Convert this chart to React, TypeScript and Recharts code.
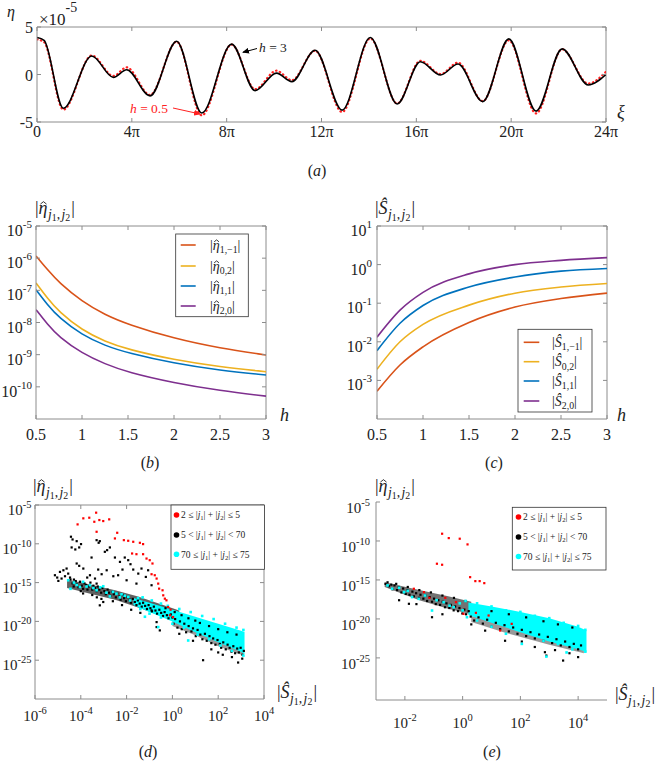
import React from 'react';
import { LineChart, Line, XAxis, YAxis, ReferenceLine, ComposedChart, Scatter, Area } from 'recharts';

const FONT = 'Liberation Serif, Times New Roman, DejaVu Serif, serif';
const AX = '#8c8c8c';
const TXT = '#222222';
const C_OR = '#D95319';
const C_YE = '#EDB120';
const C_BL = '#0072BD';
const C_PU = '#7E2F8E';
const C_CY = '#00FFFF';

// ---------------- panel (a): eta(xi), xi in units of pi, eta in units of 1e-5
const xiPi = [0, 0.3, 1.11, 2.31, 3.22, 3.78, 4.77, 5.89, 6.95, 8.21, 9.2, 10.1, 10.75, 11.73, 12.87, 14.06, 15.19, 16.17, 17.02, 17.76, 18.8, 19.9, 21.05, 22.15, 23.25, 24];
const etaH3 = [3.9, 3.6, -3.55, 1.95, -0.3, 0.5, -2.25, 3.5, -4.05, 3.2, -1.7, 0.15, -0.75, 2.55, -3.75, 3.9, -3.1, 1.35, -0.05, 1.1, -2.85, 3.75, -3.85, 2.7, -1.1, 0.0];
const etaH05 = [3.7, 3.4, -3.7, 2.0, -0.15, 0.75, -2.15, 3.45, -4.3, 3.15, -1.55, 0.4, -0.6, 2.5, -3.95, 3.8, -3.05, 1.45, 0.05, 1.25, -2.8, 3.6, -4.1, 2.65, -0.95, 0.3];
const xiTicks = [0, 4, 8, 12, 16, 20, 24];
const etaTicks = [-5, 0, 5];

// ---------------- panel (b): log10 |eta_hat| vs h
const hB = [0.5, 0.625, 0.75, 1, 1.25, 1.5, 2, 2.5, 3];
const logEta1m1 = [-5.93, -6.36, -6.76, -7.35, -7.76, -8.06, -8.5, -8.8, -9.01];
const logEta02 = [-6.77, -7.25, -7.67, -8.24, -8.59, -8.84, -9.16, -9.38, -9.53];
const logEta11 = [-6.98, -7.45, -7.85, -8.39, -8.72, -8.95, -9.27, -9.49, -9.63];
const logEta20 = [-7.6, -8.06, -8.45, -8.96, -9.29, -9.55, -9.88, -10.12, -10.29];
const hTicks = [0.5, 1, 1.5, 2, 2.5, 3];
const decTicksB = [-10, -9, -8, -7, -6, -5];

// ---------------- panel (c): log10 |S_hat| vs h
const hC = [0.5, 0.75, 1, 1.5, 2, 2.5, 3];
const logS1m1 = [-3.28, -2.6, -2.13, -1.5, -1.1, -0.88, -0.74];
const logS02 = [-2.71, -2.0, -1.55, -1.05, -0.74, -0.58, -0.49];
const logS11 = [-2.23, -1.52, -1.06, -0.58, -0.32, -0.17, -0.1];
const logS20 = [-1.88, -1.18, -0.72, -0.24, 0.0, 0.11, 0.18];
const decTicksC = [-3, -2, -1, 0, 1];

// ---------------- panel (d): [log10 S, log10 eta]
const redD: [number, number][] = [
  [-4.14, -7.5], [-3.89, -6.72], [-3.63, -6.64], [-3.33, -5.99], [-3.41, -7.16], [-3.19, -6.94], [-3.02, -7.07], [-2.76, -6.85],
  [-3.31, -8.45], [-2.41, -8.58], [-2.51, -9.31], [-2.12, -9.53], [-1.93, -9.61], [-1.71, -9.74], [-1.42, -9.87], [-1.28, -10.04],
  [-1.76, -11.25], [-1.57, -11.34], [-1.28, -11.34], [-1.13, -11.9], [-0.99, -12.11], [-0.87, -12.54], [-0.91, -13.92], [-0.77, -14.05],
  [-0.69, -14.48], [-0.62, -15.13], [-0.58, -15.78], [-0.43, -15.99], [-0.4, -16.64], [-0.33, -17.07], [-0.26, -17.28], [-0.19, -18.15],
  [-0.08, -18.49], [-0.11, -19.22], [0.03, -19.44],
];
const blackD: [number, number][] = [
  [-4.43, -9.09], [-4.36, -9.44], [-4.18, -9.66], [-3.99, -10.04], [-4.4, -10.47], [-4.24, -10.73], [-4.07, -10.47], [-3.31, -9.53],
  [-3.22, -9.87], [-3.17, -9.66], [-4.18, -12.54], [-4.07, -12.84], [-3.89, -13.19], [-3.53, -11.77], [-2.85, -10.82], [-2.73, -10.47],
  [-2.95, -11.03], [-2.51, -11.77], [-2.29, -12.33], [-2.08, -11.77], [-1.93, -12.11], [-2.18, -13.32], [-1.83, -12.63], [-1.71, -13.32],
  [-1.49, -13.84], [-1.35, -13.19], [-1.16, -14.27], [-1.06, -13.41], [-3.24, -13.32], [-3.09, -13.92], [-2.87, -13.41], [-2.58, -14.18],
  [-2.37, -14.05], [-3.6, -14.05], [-3.38, -14.48], [-3.72, -14.35], [-3.31, -15.13], [-2.0, -14.7], [-1.57, -15.13], [-0.91, -15.34],
  [-3.17, -17.93], [-3.02, -17.5], [-0.91, -18.58], [-0.69, -20.73], [-0.55, -21.16], [-0.69, -20.09],
  [-5.13, -14.05], [-5.03, -14.35], [-4.91, -13.62], [-4.76, -13.41], [-4.62, -13.19], [-4.55, -13.84], [-4.98, -14.78], [-4.84, -14.48],
  [-4.69, -14.18], [-4.47, -14.35], [-4.3, -14.61], [-4.04, -14.91],
  [-4.45, -14.6], [-4.36, -15.1], [-4.31, -15.5], [-4.22, -14.8], [-4.17, -15.2], [-4.1, -15.6], [-4.03, -14.9], [-3.96, -15.4],
  [-3.9, -15.8], [-3.84, -15.1], [-3.77, -15.3], [-3.71, -15.9], [-3.65, -15.5], [-3.58, -15.0], [-3.5, -15.9], [-3.45, -15.4],
  [-3.38, -15.7], [-3.31, -16.1], [-3.26, -15.5], [-3.19, -15.9], [-3.11, -16.3], [-3.06, -15.7], [-2.97, -16.1], [-2.91, -16.5],
  [-2.83, -15.9], [-2.77, -16.3], [-2.71, -16.7], [-2.63, -16.2], [-2.56, -16.5], [-2.47, -16.9], [-2.41, -16.4], [-2.32, -16.8],
  [-2.26, -17.2], [-2.17, -16.6], [-2.11, -17.0], [-2.03, -17.4], [-1.96, -16.9], [-1.87, -17.2], [-1.81, -17.6], [-1.73, -17.1],
  [-1.64, -17.5], [-1.57, -17.9], [-1.51, -17.3], [-1.43, -17.7], [-1.34, -18.1], [-1.28, -17.6], [-1.19, -18.0], [-1.11, -18.4],
  [-1.04, -17.9], [-0.96, -18.3], [-0.89, -18.7], [-0.81, -18.1], [-0.74, -18.6], [-0.67, -19.0], [-0.57, -18.5], [-0.49, -18.9],
  [-0.41, -19.3], [-0.34, -18.8], [-0.24, -19.2], [-0.17, -19.6], [-0.07, -19.1], [0.0, -19.5],
  [-3.9, -16.4], [-3.5, -16.6], [-3.1, -17.1], [-2.6, -17.4], [-2.2, -17.9], [-1.8, -18.5], [-1.4, -18.9], [-4.0, -16.1], [-3.3, -16.9],
  [0.05, -20.3], [0.12, -19.7], [0.22, -20.8], [0.33, -20.0], [0.41, -21.0], [0.52, -20.3], [0.6, -21.4], [0.71, -20.6],
  [0.83, -21.3], [0.9, -20.9], [1.02, -21.9], [1.1, -21.1], [1.22, -21.7], [1.31, -22.3], [1.42, -21.6], [1.5, -22.5],
  [1.62, -21.9], [1.7, -22.8], [1.78, -22.2], [1.88, -23.0], [1.97, -22.4], [2.07, -22.9], [2.13, -23.4], [2.22, -22.7],
  [2.33, -23.6], [2.41, -23.0], [2.5, -23.4], [2.58, -23.9], [2.66, -23.2], [2.74, -24.1], [2.83, -23.5], [2.9, -24.0],
  [2.98, -23.4], [3.06, -24.3], [3.12, -23.8],
  [-0.3, -18.3], [0.1, -18.8], [0.4, -19.2], [0.7, -19.6], [1.0, -19.9], [1.2, -20.2], [1.6, -20.6], [2.0, -21.0], [2.4, -21.4], [2.8, -21.7],
  [1.34, -25.0], [2.87, -25.3], [2.6, -24.6], [2.0, -24.0], [1.7, -23.6], [0.9, -22.5], [0.3, -21.6], [2.2, -24.3], [3.05, -24.8],
];
const cyanD: [number, number][] = [
  [-4.55, -14.7], [-4.45, -15.8], [-4.3, -15.0], [-4.18, -15.3], [-4.04, -15.56], [-3.9, -14.9], [-3.75, -15.5], [-3.6, -15.34],
  [-3.45, -15.7], [-3.31, -15.99], [-3.15, -15.6], [-3.02, -15.47], [-2.88, -16.3], [-2.73, -16.77], [-2.6, -16.2], [-2.44, -16.42],
  [-2.3, -16.9], [-2.22, -16.51], [-2.08, -16.7], [-1.93, -16.85], [-1.85, -17.3], [-1.2, -19.4], [-0.62, -20.73], [0.69, -22.46],
  [-1.5, -17.0], [-1.3, -16.9], [-0.9, -17.3], [-0.5, -17.7], [-0.2, -18.0], [0.3, -18.4], [0.8, -18.8], [1.3, -19.3],
  [1.8, -19.7], [2.3, -20.3], [2.8, -20.8], [3.1, -21.1], [3.1, -24.4], [2.6, -23.8], [2.1, -23.1], [1.6, -22.3],
  [1.1, -21.7], [0.5, -20.8], [0.0, -20.3], [-0.5, -19.5], [-1.0, -19.0], [-1.4, -18.4],
];
const bandDx = [-1.7, -1.0, 0, 1, 2, 3, 3.15];
const bandDhi = [-17.0, -17.6, -18.5, -19.4, -20.3, -21.2, -21.35];
const bandDlo = [-17.9, -18.8, -20.0, -21.4, -22.7, -23.9, -24.2];
const blkBandDx = [-4.6, -3.5, -2.5, -1.5, -0.5, 0.3];
const blkBandDhi = [-14.6, -15.3, -16.0, -16.8, -17.8, -18.6];
const blkBandDlo = [-15.7, -16.5, -17.2, -18.2, -19.3, -20.0];
const lowBandDx = [0, 1, 2, 3.1];
const lowBandDhi = [-19.9, -21.0, -22.2, -23.3];
const lowBandDlo = [-20.6, -21.8, -23.2, -24.4];
const sTicksD = [-6, -4, -2, 0, 2, 4];
const etaTicksDE = [-25, -20, -15, -10, -5];

// ---------------- panel (e)
const redE: [number, number][] = [
  [-0.71, -9.07], [-0.48, -9.63], [-0.1, -9.71], [0.17, -10.44], [-0.89, -12.92], [-0.71, -13.05], [0.26, -14.64], [0.44, -15.15],
  [0.59, -15.15], [0.75, -15.41], [-1.69, -16.13], [-1.34, -16.56], [-1.15, -17.29], [-0.6, -17.29], [-0.23, -17.85], [0.03, -19.35],
  [0.46, -19.22], [0.9, -19.56], [1.3, -21.49], [1.7, -20.63],
];
const blackE: [number, number][] = [
  [-2.67, -15.5], [-2.6, -15.3], [-2.55, -15.8], [-2.47, -15.6], [-2.43, -16.2], [-2.36, -15.7], [-2.27, -16.3], [-2.21, -15.9],
  [-2.12, -16.6], [-2.06, -16.1], [-1.97, -16.8], [-1.91, -16.3], [-1.84, -16.9], [-1.74, -16.5], [-1.69, -17.1], [-1.61, -16.7],
  [-1.51, -17.3], [-1.46, -16.9], [-1.36, -17.4], [-1.29, -17.0], [-1.23, -17.7], [-1.14, -17.2], [-1.06, -17.8], [-0.99, -17.4],
  [-0.93, -18.1], [-0.84, -17.6], [-0.78, -18.2], [-0.69, -17.8], [-0.61, -18.5], [-0.56, -18.0], [-0.46, -18.6], [-0.41, -18.2],
  [-0.31, -18.9], [-0.26, -18.4], [-0.16, -19.0], [-0.11, -18.6], [-0.01, -19.3], [0.06, -18.8], [0.12, -19.4], [0.21, -19.0], [0.28, -19.7],
  [-2.3, -15.5], [-1.9, -15.9], [-1.5, -16.3], [-1.1, -16.6], [-0.7, -17.0], [-0.3, -17.3], [0.1, -17.7],
  [0.4, -20.2], [0.55, -19.8], [0.7, -20.6], [0.85, -20.1], [1.0, -21.0], [1.15, -20.5], [1.3, -21.3], [1.45, -20.8],
  [1.6, -21.6], [1.75, -21.1], [1.9, -21.9], [2.05, -21.4], [2.2, -22.2], [2.35, -21.7], [2.5, -22.5], [2.65, -22.0],
  [2.8, -22.8], [2.95, -22.3], [3.1, -23.1], [3.25, -22.6], [3.4, -23.4], [3.55, -22.9], [3.7, -23.6], [3.85, -23.2],
  [4.0, -23.9], [4.1, -23.4],
  [1.0, -19.0], [1.6, -19.4], [2.2, -19.8], [2.8, -20.3], [3.3, -20.7], [3.8, -21.1],
  [-1.86, -18.06], [-1.06, -19.78], [-0.7, -19.4], [0.78, -21.5], [1.47, -22.8], [2.05, -22.9], [2.85, -24.27], [2.9, -24.7],
  [3.48, -25.34], [4.0, -24.9], [3.7, -24.4], [-2.2, -17.6], [-1.6, -18.1], [0.3, -20.7], [2.5, -23.6], [3.2, -24.0],
];
const cyanE: [number, number][] = [
  [-2.44, -16.13], [-2.03, -16.56], [-1.75, -17.2], [-1.52, -17.42], [-1.3, -17.0], [-1.06, -18.92], [-0.9, -17.6], [-0.66, -17.85],
  [-0.45, -18.3], [-0.31, -18.49], [-0.1, -18.0], [0.0, -18.9], [0.15, -19.78], [0.1, -17.7], [0.5, -18.0], [1.0, -18.4],
  [1.5, -18.9], [2.0, -19.1], [2.5, -19.6], [3.0, -19.9], [3.5, -20.5], [4.0, -20.9], [4.25, -21.4], [4.25, -24.2],
  [3.8, -23.9], [3.3, -23.2], [2.8, -22.8], [2.05, -23.2], [2.9, -24.83], [3.6, -24.3], [1.5, -21.9], [1.0, -21.0],
  [0.5, -20.2], [-2.2, -16.0], [-1.9, -16.4], [-2.6, -15.7],
];
const bandEx = [0.2, 1.0, 2.0, 3.0, 4.0, 4.29];
const bandEhi = [-17.9, -18.4, -19.1, -19.9, -21.0, -21.5];
const bandElo = [-19.5, -20.5, -21.7, -22.9, -23.9, -24.2];
const blkBandEx = [-2.7, -1.5, -0.5, 0.3];
const blkBandEhi = [-15.3, -16.3, -17.1, -17.8];
const blkBandElo = [-15.9, -17.6, -18.7, -19.4];
const lowBandEx = [0.3, 1.5, 3.0, 4.2];
const lowBandEhi = [-19.6, -20.8, -22.3, -23.5];
const lowBandElo = [-20.4, -21.8, -23.3, -24.4];
const sTicksE = [-2, 0, 2, 4];

// ---------------- helpers
const toPts = (a: [number, number][]) => a.map(([x, y]) => ({ x, y }));
const toBand = (xs: number[], lo: number[], hi: number[]) => xs.map((x, i) => ({ x, r: [lo[i], hi[i]] }));
const sq = (fill: string, s: number) => (p: any) =>
  p && Number.isFinite(p.cx) && Number.isFinite(p.cy) ? (
    <rect x={p.cx - s / 2} y={p.cy - s / 2} width={s} height={s} fill={fill} />
  ) : (
    <g />
  );

const pow10 = (es: number, up: number) => (v: number) => [
  <tspan key="b">10</tspan>,
  <tspan key="e" dy={-up} fontSize={es}>
    {String(v)}
  </tspan>,
];
const piFmt = (v: number) => (v === 0 ? '0' : `${v}π`);
const plainFmt = (v: number) => String(v);
const tstyle: React.CSSProperties = { fontFamily: FONT };

const makeXTick = (o: { plotH: number | null; fs: number; dy: number; fmt: (v: number) => any }) => (p: any) => {
  const { x, y, payload } = p;
  return (
    <g>
      <line x1={x} y1={y} x2={x} y2={y - 4} stroke={AX} />
      {o.plotH != null && <line x1={x} y1={y - o.plotH} x2={x} y2={y - o.plotH + 4} stroke={AX} />}
      <text x={x} y={y + o.dy} textAnchor="middle" fontSize={o.fs} style={tstyle} fill={TXT}>
        {o.fmt(payload.value)}
      </text>
    </g>
  );
};
const makeYTick = (o: { plotW: number | null; fs: number; dy: number; gap: number; fmt: (v: number) => any }) => (p: any) => {
  const { x, y, payload } = p;
  return (
    <g>
      <line x1={x} y1={y} x2={x + 4} y2={y} stroke={AX} />
      {o.plotW != null && <line x1={x + o.plotW} y1={y} x2={x + o.plotW - 4} y2={y} stroke={AX} />}
      <text x={x - o.gap} y={y + o.dy} textAnchor="end" fontSize={o.fs} style={tstyle} fill={TXT}>
        {o.fmt(payload.value)}
      </text>
    </g>
  );
};

type Part = { t: string; it?: boolean; s?: number; dy?: number; dx?: number };
function MText({ x, y, fs, parts, fill = TXT, anchor = 'start' }: { x: number; y: number; fs: number; parts: Part[]; fill?: string; anchor?: string }) {
  return (
    <text x={x} y={y} fontSize={fs} style={tstyle} fill={fill} textAnchor={anchor as any}>
      {parts.map((p, i) => (
        <tspan key={i} fontStyle={p.it ? 'italic' : 'normal'} fontSize={fs * (p.s ?? 1)} dy={(p.dy ?? 0) * fs} dx={(p.dx ?? 0) * fs}>
          {p.t}
        </tspan>
      ))}
    </text>
  );
}
function Hat({ x, y, w }: { x: number; y: number; w: number }) {
  return <path d={`M${x - w / 2},${y} L${x},${y - w * 0.4} L${x + w / 2},${y}`} stroke={TXT} strokeWidth={0.9} fill="none" />;
}
const jjParts = (letter: string): Part[] => [
  { t: '|' },
  { t: letter, it: true },
  { t: 'j', it: true, s: 0.76, dy: 0.28, dx: 0.02 },
  { t: '1', s: 0.55, dy: 0.1 },
  { t: ',', s: 0.76, dy: -0.1 },
  { t: 'j', it: true, s: 0.76, dx: 0.08 },
  { t: '2', s: 0.55, dy: 0.1 },
  { t: '|', dy: -0.38, dx: 0.06 },
];
function EtaTitle({ x, y, fs }: { x: number; y: number; fs: number }) {
  return (
    <g>
      <MText x={x} y={y} fs={fs} parts={jjParts('η')} />
      <Hat x={x + fs * 0.47} y={y - fs * 0.55} w={fs * 0.34} />
    </g>
  );
}
function STitle({ x, y, fs }: { x: number; y: number; fs: number }) {
  return <MText x={x} y={y} fs={fs} parts={jjParts('Ŝ')} />;
}
function LegLabel({ x, y, fs, letter, sub }: { x: number; y: number; fs: number; letter: string; sub: string }) {
  const parts: Part[] = [{ t: '|' }, { t: letter, it: true }, { t: sub, s: 0.7, dy: 0.25 }, { t: '|', dy: -0.25 }];
  return (
    <g>
      <MText x={x} y={y} fs={fs} parts={parts} />
      {letter === 'η' && <Hat x={x + fs * 0.47} y={y - fs * 0.55} w={fs * 0.34} />}
    </g>
  );
}
const rangeParts = (a: string, op1: string, op2: string, b: string): Part[] => [
  { t: `${a} ${op1} |` },
  { t: 'j', it: true },
  { t: '1', s: 0.7, dy: 0.2 },
  { t: '| + |', dy: -0.2 },
  { t: 'j', it: true },
  { t: '2', s: 0.7, dy: 0.2 },
  { t: `| ${op2} ${b}`, dy: -0.2 },
];

function ScatterLegend({ x0, y0, x1, y1, dotX, ys, textX }: { x0: number; y0: number; x1: number; y1: number; dotX: number; ys: number[]; textX: number }) {
  const items = [
    { c: '#ff0000', p: rangeParts('2', '≤', '≤', '5') },
    { c: '#000000', p: rangeParts('5', '<', '<', '70') },
    { c: C_CY, p: rangeParts('70', '≤', '≤', '75') },
  ];
  return (
    <g>
      <rect x={x0} y={y0} width={x1 - x0} height={y1 - y0} fill="#fff" stroke="#333" strokeWidth={0.8} />
      {items.map((it, i) => (
        <g key={i}>
          <circle cx={dotX} cy={ys[i]} r={2.8} fill={it.c} />
          <MText x={textX} y={ys[i] + 3.3} fs={9.5} parts={it.p} />
        </g>
      ))}
    </g>
  );
}

function LineLegend({ x0, y0, x1, y1, lx0, lx1, ys, tx, letter, subs, colors }: any) {
  return (
    <g>
      <rect x={x0} y={y0} width={x1 - x0} height={y1 - y0} fill="#fff" stroke="#333" strokeWidth={0.8} />
      {ys.map((yy: number, i: number) => (
        <g key={i}>
          <line x1={lx0} y1={yy} x2={lx1} y2={yy} stroke={colors[i]} strokeWidth={1.6} />
          <LegLabel x={tx} y={yy + 4.5} fs={14} letter={letter} sub={subs[i]} />
        </g>
      ))}
    </g>
  );
}

// ---------------- data tables
const dataA = xiPi.map((x, i) => ({ x, h3: etaH3[i], h05: etaH05[i] }));
const dataB = hB.map((h, i) => ({ h, a: logEta1m1[i], b: logEta02[i], c: logEta11[i], d: logEta20[i] }));
const dataC = hC.map((h, i) => ({ h, a: logS1m1[i], b: logS02[i], c: logS11[i], d: logS20[i] }));
const dataBandD = toBand(bandDx, bandDlo, bandDhi);
const dataBlkD = toBand(blkBandDx, blkBandDlo, blkBandDhi);
const dataLowD = toBand(lowBandDx, lowBandDlo, lowBandDhi);
const dataBandE = toBand(bandEx, bandElo, bandEhi);
const dataBlkE = toBand(blkBandEx, blkBandElo, blkBandEhi);
const dataLowE = toBand(lowBandEx, lowBandElo, lowBandEhi);

const pos = (l: number, t: number): React.CSSProperties => ({ position: 'absolute', left: l, top: t });

export default function App() {
  return (
    <div style={{ position: 'relative', width: 664, height: 761, background: '#fff', fontFamily: FONT, overflow: 'hidden' }}>
      <style>{'html,body{margin:0;padding:0;background:#fff}'}</style>

      {/* (a) */}
      <div style={pos(0, 0)}>
        <LineChart width={664} height={180} data={dataA} margin={{ top: 27, right: 58, bottom: 0, left: 0 }}>
          <XAxis type="number" dataKey="x" domain={[0, 24]} ticks={xiTicks} interval={0} allowDataOverflow height={58}
            tickSize={0} tickMargin={0} tickLine={false} stroke={AX} tick={makeXTick({ plotH: 95, fs: 16, dy: 15, fmt: piFmt })} />
          <YAxis type="number" domain={[-5, 5]} ticks={etaTicks} interval={0} allowDataOverflow width={37}
            tickSize={0} tickMargin={0} tickLine={false} stroke={AX} tick={makeYTick({ plotW: 569, fs: 16, dy: 6, gap: 4, fmt: plainFmt })} />
          <ReferenceLine y={5} stroke={AX} />
          <ReferenceLine x={24} stroke={AX} />
          <Line dataKey="h05" type="monotone" stroke="#ff2020" strokeWidth={2.2} strokeDasharray="0.5 3.5" strokeLinecap="round" dot={false} isAnimationActive={false} />
          <Line dataKey="h3" type="monotone" stroke="#000" strokeWidth={1.6} dot={false} isAnimationActive={false} />
        </LineChart>
      </div>

      {/* (b) */}
      <div style={pos(0, 200)}>
        <LineChart width={332} height={260} data={dataB} margin={{ top: 26, right: 66, bottom: 0, left: 0 }}>
          <XAxis type="number" dataKey="h" domain={[0.5, 3]} ticks={hTicks} interval={0} allowDataOverflow height={41}
            tickSize={0} tickMargin={0} tickLine={false} stroke={AX} tick={makeXTick({ plotH: 193, fs: 16, dy: 21, fmt: plainFmt })} />
          <YAxis type="number" domain={[-11, -5]} ticks={decTicksB} interval={0} allowDataOverflow width={36}
            tickSize={0} tickMargin={0} tickLine={false} stroke={AX} tick={makeYTick({ plotW: 230, fs: 16, dy: 10, gap: 4, fmt: pow10(11, 8) })} />
          <ReferenceLine y={-5} stroke={AX} />
          <ReferenceLine x={3} stroke={AX} />
          <Line dataKey="a" type="basis" stroke={C_OR} strokeWidth={1.6} dot={false} isAnimationActive={false} />
          <Line dataKey="b" type="basis" stroke={C_YE} strokeWidth={1.6} dot={false} isAnimationActive={false} />
          <Line dataKey="c" type="basis" stroke={C_BL} strokeWidth={1.6} dot={false} isAnimationActive={false} />
          <Line dataKey="d" type="basis" stroke={C_PU} strokeWidth={1.6} dot={false} isAnimationActive={false} />
        </LineChart>
      </div>

      {/* (c) */}
      <div style={pos(332, 200)}>
        <LineChart width={332} height={260} data={dataC} margin={{ top: 26, right: 57, bottom: 0, left: 0 }}>
          <XAxis type="number" dataKey="h" domain={[0.5, 3]} ticks={hTicks} interval={0} allowDataOverflow height={41}
            tickSize={0} tickMargin={0} tickLine={false} stroke={AX} tick={makeXTick({ plotH: 193, fs: 16, dy: 21, fmt: plainFmt })} />
          <YAxis type="number" domain={[-4, 1]} ticks={decTicksC} interval={0} allowDataOverflow width={45}
            tickSize={0} tickMargin={0} tickLine={false} stroke={AX} tick={makeYTick({ plotW: 230, fs: 16, dy: 10, gap: 5, fmt: pow10(11, 8) })} />
          <ReferenceLine y={1} stroke={AX} />
          <ReferenceLine x={3} stroke={AX} />
          <Line dataKey="a" type="monotone" stroke={C_OR} strokeWidth={1.6} dot={false} isAnimationActive={false} />
          <Line dataKey="b" type="monotone" stroke={C_YE} strokeWidth={1.6} dot={false} isAnimationActive={false} />
          <Line dataKey="c" type="monotone" stroke={C_BL} strokeWidth={1.6} dot={false} isAnimationActive={false} />
          <Line dataKey="d" type="monotone" stroke={C_PU} strokeWidth={1.6} dot={false} isAnimationActive={false} />
        </LineChart>
      </div>

      {/* (d) */}
      <div style={pos(0, 480)}>
        <ComposedChart width={332} height={260} data={dataBandD} margin={{ top: 25, right: 68, bottom: 0, left: 0 }}>
          <XAxis type="number" dataKey="x" domain={[-6, 4]} ticks={sTicksD} interval={0} allowDataOverflow height={41}
            tickSize={0} tickMargin={0} tickLine={false} stroke={AX} tick={makeXTick({ plotH: 194, fs: 15, dy: 22, fmt: pow10(10.5, 7) })} />
          <YAxis type="number" domain={[-30, -5]} ticks={etaTicksDE} interval={0} allowDataOverflow width={35}
            tickSize={0} tickMargin={0} tickLine={false} stroke={AX} tick={makeYTick({ plotW: 229, fs: 15, dy: 10, gap: 3.5, fmt: pow10(10.5, 7) })} />
          <ReferenceLine y={-5} stroke={AX} />
          <ReferenceLine x={4} stroke={AX} />
          <Area data={dataBlkD} dataKey="r" type="linear" stroke="none" fill="#000" fillOpacity={0.62} isAnimationActive={false} />
          <Area data={dataLowD} dataKey="r" type="linear" stroke="none" fill="#000" fillOpacity={0.4} isAnimationActive={false} />
          <Area dataKey="r" type="linear" stroke="none" fill={C_CY} fillOpacity={1} isAnimationActive={false} />
          <Scatter data={toPts(blackD)} dataKey="y" fill="#000" shape={sq('#000', 2.2)} isAnimationActive={false} />
          <Scatter data={toPts(cyanD)} dataKey="y" fill={C_CY} shape={sq(C_CY, 2.6)} isAnimationActive={false} />
          <Scatter data={toPts(redD)} dataKey="y" fill="#f00" shape={sq('#ff0000', 2.2)} isAnimationActive={false} />
        </ComposedChart>
      </div>

      {/* (e) */}
      <div style={pos(332, 480)}>
        <ComposedChart width={332} height={260} data={dataBandE} margin={{ top: 22, right: 57, bottom: 0, left: 0 }}>
          <XAxis type="number" dataKey="x" domain={[-3, 5]} ticks={sTicksE} interval={0} allowDataOverflow height={40}
            tickSize={0} tickMargin={0} tickLine={false} stroke={AX} tick={makeXTick({ plotH: null, fs: 15, dy: 28, fmt: pow10(10.5, 7) })} />
          <YAxis type="number" domain={[-30.4, -5]} ticks={etaTicksDE} interval={0} allowDataOverflow width={44}
            tickSize={0} tickMargin={0} tickLine={false} stroke={AX} tick={makeYTick({ plotW: null, fs: 15, dy: 11, gap: 6, fmt: pow10(10.5, 7) })} />
          <Area data={dataBlkE} dataKey="r" type="linear" stroke="none" fill="#000" fillOpacity={0.55} isAnimationActive={false} />
          <Area data={dataLowE} dataKey="r" type="linear" stroke="none" fill="#000" fillOpacity={0.4} isAnimationActive={false} />
          <Area dataKey="r" type="linear" stroke="none" fill={C_CY} fillOpacity={1} isAnimationActive={false} />
          <Scatter data={toPts(blackE)} dataKey="y" fill="#000" shape={sq('#000', 2.2)} isAnimationActive={false} />
          <Scatter data={toPts(cyanE)} dataKey="y" fill={C_CY} shape={sq(C_CY, 2.6)} isAnimationActive={false} />
          <Scatter data={toPts(redE)} dataKey="y" fill="#f00" shape={sq('#ff0000', 2.2)} isAnimationActive={false} />
        </ComposedChart>
      </div>

      {/* overlay text & legends */}
      <svg width={664} height={761} style={{ position: 'absolute', left: 0, top: 0, pointerEvents: 'none' }}>
        <defs>
          <marker id="arrK" markerWidth="7" markerHeight="6" refX="6" refY="3" orient="auto">
            <path d="M0,0 L7,3 L0,6 z" fill="#000" />
          </marker>
          <marker id="arrR" markerWidth="7" markerHeight="6" refX="6" refY="3" orient="auto">
            <path d="M0,0 L7,3 L0,6 z" fill="#ff2020" />
          </marker>
        </defs>

        {/* (a) */}
        <MText x={7} y={17} fs={16} parts={[{ t: 'η', it: true }]} />
        <MText x={39} y={25} fs={17} parts={[{ t: '×10' }, { t: '-5', s: 0.82, dy: -0.78 }]} />
        <MText x={259} y={52} fs={13.5} parts={[{ t: 'h', it: true }, { t: ' = 3' }]} />
        <line x1={257} y1={48.5} x2={243} y2={52.3} stroke="#000" strokeWidth={1} markerEnd="url(#arrK)" />
        <MText x={130} y={112.5} fs={13.5} fill="#ff2020" parts={[{ t: 'h', it: true }, { t: ' = 0.5' }]} />
        <line x1={173} y1={108} x2={200} y2={114} stroke="#ff2020" strokeWidth={1} markerEnd="url(#arrR)" />
        <MText x={617} y={118} fs={18} parts={[{ t: 'ξ', it: true }]} />
        <MText x={317} y={176} fs={16} anchor="middle" parts={[{ t: '(' }, { t: 'a', it: true }, { t: ')' }]} />

        {/* (b) */}
        <EtaTitle x={35} y={214} fs={18} />
        <MText x={280} y={421} fs={18} parts={[{ t: 'h', it: true }]} />
        <MText x={150} y={468} fs={16} anchor="middle" parts={[{ t: '(' }, { t: 'b', it: true }, { t: ')' }]} />
        <LineLegend x0={175.7} y0={234} x1={248.3} y1={316.7} lx0={180.7} lx1={195.7} ys={[245, 266, 286, 306]} tx={210}
          letter="η" subs={['1,−1', '0,2', '1,1', '2,0']} colors={[C_OR, C_YE, C_BL, C_PU]} />

        {/* (c) */}
        <STitle x={375} y={214} fs={18} />
        <MText x={617} y={421} fs={18} parts={[{ t: 'h', it: true }]} />
        <MText x={494} y={468} fs={16} anchor="middle" parts={[{ t: '(' }, { t: 'c', it: true }, { t: ')' }]} />
        <LineLegend x0={518} y0={329.3} x1={592} y1={412} lx0={523.7} lx1={539.3} ys={[342.3, 361.7, 381, 401]} tx={552}
          letter="Ŝ" subs={['1,−1', '0,2', '1,1', '2,0']} colors={[C_OR, C_YE, C_BL, C_PU]} />

        {/* (d) */}
        <EtaTitle x={33} y={492} fs={18} />
        <STitle x={277} y={698} fs={18} />
        <MText x={148} y={757} fs={16} anchor="middle" parts={[{ t: '(' }, { t: 'd', it: true }, { t: ')' }]} />
        <ScatterLegend x0={171} y0={505} x1={264.5} y1={569.3} dotX={176.5} ys={[515, 535, 554.3]} textX={181} />

        {/* (e) */}
        <EtaTitle x={375} y={492} fs={18} />
        <STitle x={615} y={700} fs={18} />
        <MText x={492} y={757} fs={16} anchor="middle" parts={[{ t: '(' }, { t: 'e', it: true }, { t: ')' }]} />
        <ScatterLegend x0={512.3} y0={507.3} x1={606} y1={570} dotX={518.5} ys={[517, 537, 556.5]} textX={523} />
      </svg>
    </div>
  );
}
